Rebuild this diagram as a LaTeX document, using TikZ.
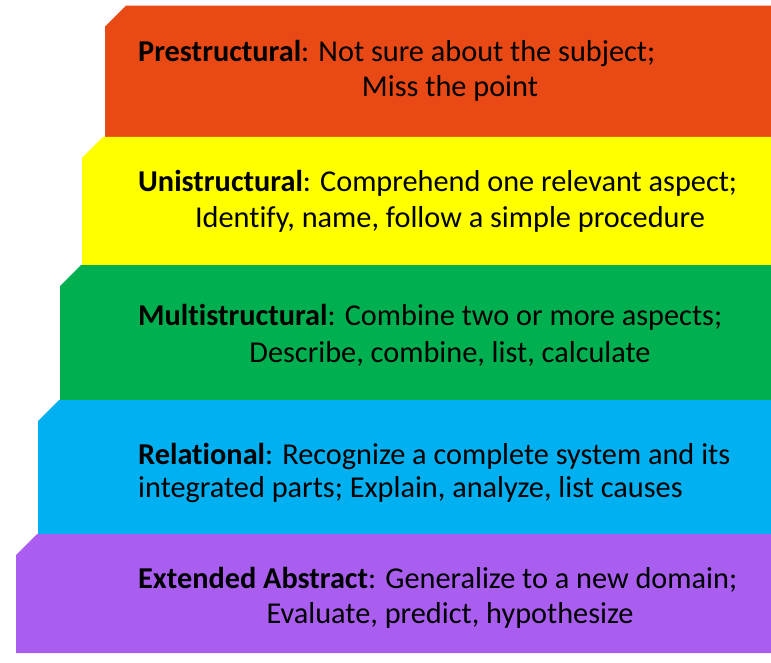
\documentclass[tikz,border=0pt]{standalone}
\usepackage{fontspec}
\setmainfont{Carlito}[Ligatures=NoCommon]
\usepackage{tikz}
\definecolor{prered}{RGB}{233,74,21}
\definecolor{uniyellow}{RGB}{255,255,0}
\definecolor{multigreen}{RGB}{0,176,80}
\definecolor{relblue}{RGB}{0,176,240}
\definecolor{extpurple}{RGB}{169,94,240}
\tikzstyle{lead} = [anchor=base west, inner sep=0pt, font=\fontsize{30.3}{36}\selectfont]
\tikzstyle{rest} = [anchor=base, inner sep=0pt, font=\fontsize{30.3}{36}\selectfont]

\begin{document}
\begin{tikzpicture}[x=1pt,y=-1pt]
    \useasboundingbox (0,0) rectangle (771,663);
    % stepped bands, cut corner top left
    \foreach \l/\t/\b/\c in {105/5.7/137/prered, 82/137/265/uniyellow, 60/265/400/multigreen, 38/400/534/relblue, 16/534/653/extpurple}
        \fill[\c] (\l,\b) -- (\l,\t+21) -- (\l+21,\t) -- (771,\t) -- (771,\b) -- cycle;

    \node[lead] (pre) at (138,62) {\textbf{Prestructural}: Not sure about the subject;};
    \node[rest] (pre2) at (450,97) {Miss the point};
    \node[lead] (uni) at (138,192) {\textbf{Unistructural}: Comprehend one relevant aspect;};
    \node[rest] (uni2) at (450,228) {Identify, name, follow a simple procedure};
    \node[lead] (multi) at (138,325) {\textbf{Multistructural}: Combine two or more aspects;};
    \node[rest] (multi2) at (450,362) {Describe, combine, list, calculate};
    \node[lead] (rel) at (138,464) {\textbf{Relational}: Recognize a complete system and its};
    \node[lead] (rel2) at (138,497) {integrated parts; Explain, analyze, list causes};
    \node[lead] (ext) at (138,588) {\textbf{Extended Abstract}: Generalize to a new domain;};
    \node[rest] (ext2) at (450,623) {Evaluate, predict, hypothesize};
\end{tikzpicture}
\end{document}
